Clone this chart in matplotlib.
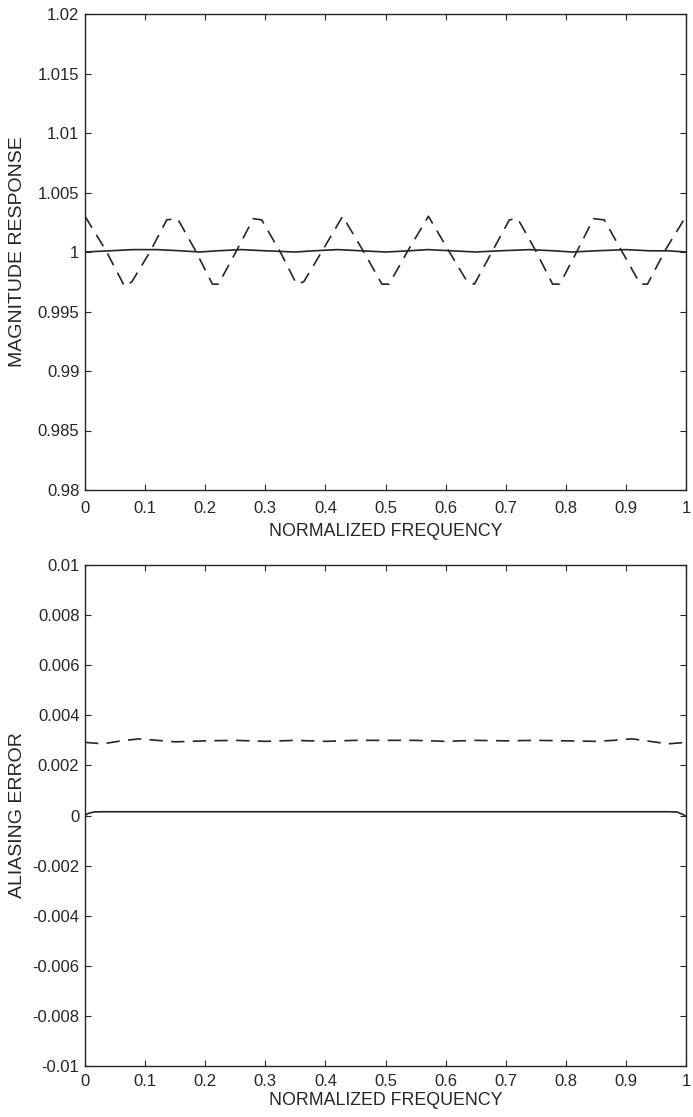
import matplotlib
matplotlib.use("Agg")
import matplotlib.pyplot as plt

plt.rcParams['font.family'] = ['Liberation Sans', 'DejaVu Sans']

# ---- Top panel data: magnitude response ----
mag_dash_x = [0.000, 0.034, 0.066, 0.078, 0.108, 0.136, 0.154, 0.184, 0.212, 0.222,
              0.250, 0.280, 0.294, 0.326, 0.352, 0.364, 0.396, 0.4286, 0.464, 0.494,
              0.506, 0.536, 0.5714, 0.604, 0.636, 0.648, 0.676, 0.706, 0.720, 0.750,
              0.778, 0.790, 0.818, 0.846, 0.864, 0.894, 0.924, 0.936, 0.966, 1.000]
mag_dash_y = [1.0030, 1.0002, 0.9971, 0.9975, 1.0000, 1.0027, 1.0028, 1.0001, 0.9973, 0.9973,
              0.9999, 1.0028, 1.0027, 0.9999, 0.9973, 0.9975, 1.0002, 1.0030, 1.0000, 0.9973,
              0.9973, 1.0000, 1.0030, 1.0002, 0.9975, 0.9973, 0.9999, 1.0027, 1.0028, 1.0001,
              0.9973, 0.9973, 1.0000, 1.0028, 1.0027, 1.0000, 0.9973, 0.9973, 1.0002, 1.0030]

mag_solid_x = [0.00, 0.04, 0.08, 0.12, 0.16, 0.19, 0.22, 0.26, 0.30, 0.35, 0.38, 0.42,
               0.46, 0.50, 0.54, 0.57, 0.61, 0.65, 0.69, 0.74, 0.78, 0.81, 0.85, 0.90,
               0.94, 0.97, 1.00]
mag_solid_y = [1.0000, 1.0001, 1.0002, 1.0002, 1.0001, 1.0000, 1.0001, 1.0002, 1.0001, 1.0000,
               1.0001, 1.0002, 1.0001, 1.0000, 1.0001, 1.0002, 1.0001, 1.0000, 1.0001, 1.0002,
               1.0001, 1.0000, 1.0001, 1.0002, 1.0001, 1.0001, 1.0000]

# ---- Bottom panel data: aliasing error ----
alias_dash_x = [0.00, 0.03, 0.06, 0.09, 0.12, 0.15, 0.20, 0.25, 0.30, 0.35, 0.40, 0.45,
                0.50, 0.55, 0.60, 0.65, 0.70, 0.75, 0.80, 0.85, 0.88, 0.91, 0.94, 0.97, 1.00]
alias_dash_y = [0.00292, 0.00286, 0.00298, 0.00306, 0.00300, 0.00294, 0.00298, 0.00300, 0.00296, 0.00300,
                0.00296, 0.00300, 0.00300, 0.00300, 0.00296, 0.00300, 0.00298, 0.00300, 0.00298, 0.00296,
                0.00300, 0.00306, 0.00296, 0.00286, 0.00292]

alias_solid_x = [0.000, 0.005, 0.015, 0.030, 0.200, 0.400, 0.600, 0.800, 0.970, 0.985, 0.995, 1.000]
alias_solid_y = [0.00000, 0.00008, 0.00014, 0.00015, 0.00015, 0.00015, 0.00015, 0.00015, 0.00015, 0.00014, 0.00004, -0.00003]

xticks = [0, 0.1, 0.2, 0.3, 0.4, 0.5, 0.6, 0.7, 0.8, 0.9, 1]
xtick_labels = ['0', '0.1', '0.2', '0.3', '0.4', '0.5', '0.6', '0.7', '0.8', '0.9', '1']
top_yticks = [0.98, 0.985, 0.99, 0.995, 1.0, 1.005, 1.01, 1.015, 1.02]
top_ytick_labels = ['0.98', '0.985', '0.99', '0.995', '1', '1.005', '1.01', '1.015', '1.02']
bot_yticks = [-0.01, -0.008, -0.006, -0.004, -0.002, 0, 0.002, 0.004, 0.006, 0.008, 0.01]
bot_ytick_labels = ['-0.01', '-0.008', '-0.006', '-0.004', '-0.002', '0', '0.002', '0.004',
                    '0.006', '0.008', '0.01']

W, H = 693, 1117
fig = plt.figure(figsize=(W / 100, H / 100), dpi=100)

def px_axes(left, top, right, bottom):
    return fig.add_axes([left / W, 1 - bottom / H, (right - left) / W, (bottom - top) / H])

ink = '#262626'
dash = (0, (8, 5))

def style(ax, xpad):
    for s in ax.spines.values():
        s.set_color(ink)
        s.set_linewidth(1.0)
    ax.tick_params(direction='in', top=True, right=True, length=4, width=0.8,
                   colors=ink, labelsize=12)
    ax.tick_params(axis='x', pad=xpad)
    ax.tick_params(axis='y', pad=4)
    ax.yaxis.set_label_coords(-0.098, 0.5)

ax1 = px_axes(85, 14, 686, 490)
ax1.plot(mag_dash_x, mag_dash_y, color=ink, lw=1.2, linestyle=dash)
ax1.plot(mag_solid_x, mag_solid_y, color=ink, lw=1.2)
ax1.set_xlim(0, 1)
ax1.set_ylim(0.98, 1.02)
ax1.set_xticks(xticks)
ax1.set_xticklabels(xtick_labels)
ax1.set_yticks(top_yticks)
ax1.set_yticklabels(top_ytick_labels)
ax1.set_xlabel('NORMALIZED FREQUENCY', fontsize=12.8, color=ink, labelpad=5)
ax1.set_ylabel('MAGNITUDE RESPONSE', fontsize=14, color=ink)
style(ax1, 8)

ax2 = px_axes(85, 565, 686, 1066)
ax2.plot(alias_dash_x, alias_dash_y, color=ink, lw=1.2, linestyle=dash)
ax2.plot(alias_solid_x, alias_solid_y, color=ink, lw=1.2)
ax2.set_xlim(0, 1)
ax2.set_ylim(-0.01, 0.01)
ax2.set_xticks(xticks)
ax2.set_xticklabels(xtick_labels)
ax2.set_yticks(bot_yticks)
ax2.set_yticklabels(bot_ytick_labels)
ax2.set_xlabel('NORMALIZED FREQUENCY', fontsize=12.8, color=ink, labelpad=2)
ax2.set_ylabel('ALIASING ERROR', fontsize=14, color=ink)
style(ax2, 6)

fig.savefig('out.png', dpi=100)
